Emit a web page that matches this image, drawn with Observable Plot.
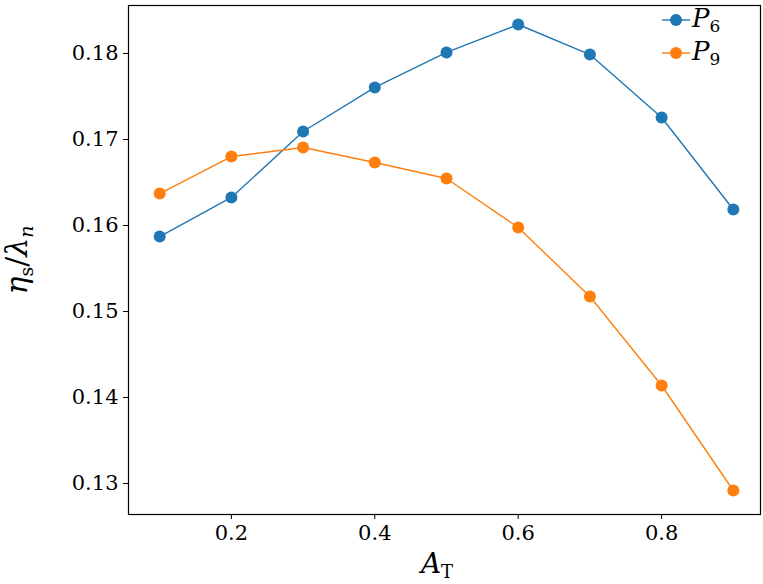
<!DOCTYPE html>
<html><head><meta charset="utf-8">
<script src="https://cdn.jsdelivr.net/npm/d3@7"></script>
<script src="https://cdn.jsdelivr.net/npm/@observablehq/plot@0.6"></script>
<style>
body{margin:0;background:#fff;}
#wrap{position:relative;width:763px;height:584px;font-family:"DejaVu Serif",serif;}
.leg{position:absolute;font-family:"DejaVu Serif",serif;font-style:italic;font-size:26px;color:#000;line-height:30px;}
.leg sub{font-style:normal;font-size:17px;vertical-align:-5px;}
</style>
</head><body>
<div id="wrap"></div>
<script>
const aT = [0.1,0.2,0.3,0.4,0.5,0.6,0.7,0.8,0.9];
const p6 = [0.15872,0.16326,0.17093,0.17605,0.18012,0.18337,0.17988,0.17256,0.16186];
const p9 = [0.16372,0.16802,0.16907,0.16733,0.16547,0.15977,0.15174,0.14140,0.12919];
const xTicks = [0.2,0.4,0.6,0.8];
const yTicks = [0.13,0.14,0.15,0.16,0.17,0.18];
const seriesNames = ["P6","P9"];
const colors = ["#1f77b4","#ff7f0e"];

const rows = [];
[p6,p9].forEach((vals,si)=>vals.forEach((v,i)=>rows.push({x:aT[i],y:v,s:seriesNames[si]})));

const plot = Plot.plot({
  width:763, height:584,
  marginLeft:128, marginRight:3, marginTop:5, marginBottom:70,
  style:{fontFamily:"DejaVu Serif, serif", fontSize:"21px", color:"#000", background:"#fff"},
  x:{domain:[0.0565,0.9379], ticks:xTicks, tickFormat:d=>String(d), tickSize:5, tickPadding:6, label:null},
  y:{domain:[0.1264,0.18558], ticks:yTicks, tickFormat:d=>d.toFixed(2), tickSize:5, tickPadding:5, label:null},
  color:{domain:seriesNames, range:colors},
  marks:[
    Plot.frame({stroke:"#000", strokeWidth:1.2}),
    Plot.line(rows,{x:"x",y:"y",z:"s",stroke:"s",strokeWidth:1.4}),
    Plot.dot(rows,{x:"x",y:"y",fill:"s",r:6,stroke:null})
  ]
});
document.getElementById("wrap").appendChild(plot);

const svg = d3.select(plot);
// y label
const yl = svg.append("text").attr("transform","translate(27,260) rotate(-90)")
  .attr("text-anchor","middle").attr("font-family","DejaVu Serif, serif").attr("font-size",30).attr("fill","#000");
yl.append("tspan").attr("font-style","italic").text("η");
yl.append("tspan").attr("font-size",19).attr("dy",6).text("s");
yl.append("tspan").attr("dy",-6).text("/");
yl.append("tspan").attr("font-style","italic").text("λ");
yl.append("tspan").attr("font-style","italic").attr("font-size",19).attr("dy",6).text("n");
// x label
const xl = svg.append("text").attr("x",437).attr("y",573)
  .attr("text-anchor","middle").attr("font-family","DejaVu Serif, serif").attr("font-size",28).attr("fill","#000");
xl.append("tspan").attr("font-style","italic").text("A");
xl.append("tspan").attr("font-size",18).attr("dy",5).text("T");

// legend
const wrap = document.getElementById("wrap");
seriesNames.forEach((n,i)=>{
  const top = 20 + i*33;
  const ls = document.createElementNS("http://www.w3.org/2000/svg","svg");
  ls.setAttribute("width",30); ls.setAttribute("height",14);
  ls.style.position="absolute"; ls.style.left="661px"; ls.style.top=(top-7)+"px";
  d3.select(ls).append("line").attr("x1",1).attr("x2",29).attr("y1",7).attr("y2",7).attr("stroke",colors[i]).attr("stroke-width",1.4);
  d3.select(ls).append("circle").attr("cx",15).attr("cy",7).attr("r",6).attr("fill",colors[i]);
  wrap.appendChild(ls);
  const t = document.createElement("div");
  t.className="leg"; t.style.left="692px"; t.style.top=(top-17)+"px";
  t.innerHTML = "P<sub>"+n.slice(1)+"</sub>";
  wrap.appendChild(t);
});
</script>
</body></html>
